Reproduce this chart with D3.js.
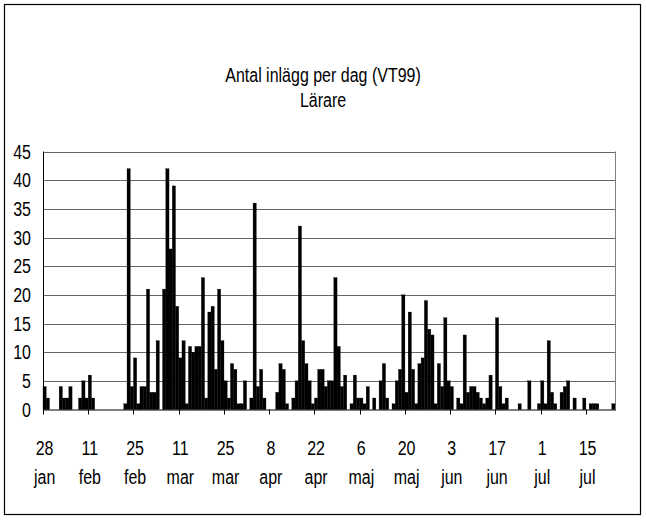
<!DOCTYPE html>
<html>
<head>
<meta charset="utf-8">
<script src="https://cdn.jsdelivr.net/npm/d3@7"></script>
<style>
  body { margin: 0; background: #fff; }
  text { font-family: "Liberation Sans", Arial, sans-serif; fill: #000; }
</style>
</head>
<body>
<div id="chart"></div>
<script>
var width = 646, height = 520;

// Antal inlägg per dag, från 28 jan 1999 och framåt (en siffra per dag)
var postsPerDay = [
  4, 2, 0, 0, 0, 4, 2, 2, 4, 0, 0, 2, 5, 2, 6, 2, 0, 0, 0, 0,
  0, 0, 0, 0, 0, 1, 42, 4, 9, 1, 4, 4, 21, 3, 3, 12, 0, 21, 42, 28,
  39, 18, 9, 12, 1, 11, 10, 11, 11, 23, 2, 17, 18, 7, 21, 12, 5, 2, 8, 7,
  1, 1, 5, 0, 2, 36, 4, 7, 2, 0, 0, 0, 3, 8, 7, 1, 0, 2, 5, 32,
  12, 8, 5, 1, 2, 7, 7, 4, 5, 5, 23, 11, 4, 6, 0, 1, 6, 2, 2, 1,
  4, 0, 2, 0, 5, 8, 2, 0, 1, 5, 7, 20, 3, 17, 7, 1, 8, 9, 19, 14,
  13, 1, 8, 4, 16, 5, 4, 0, 2, 1, 13, 3, 4, 4, 3, 2, 1, 2, 6, 0,
  16, 4, 1, 2, 0, 0, 0, 1, 0, 0, 5, 0, 0, 1, 5, 1, 12, 3, 1, 0,
  3, 4, 5, 0, 2, 0, 0, 2, 0, 1, 1, 1, 0, 0, 0, 0, 1
];
var tickDays = ["28", "11", "25", "11", "25", "8", "22", "6", "20", "3", "17", "1", "15"];
var tickMonths = ["jan", "feb", "feb", "mar", "mar", "apr", "apr", "maj", "maj", "jun", "jun", "jul", "jul"];
var yTicks = [0, 5, 10, 15, 20, 25, 30, 35, 40, 45];
var titleLines = ["Antal inlägg per dag (VT99)", "Lärare"];
var labelStep = 14;

var plot = {left: 43, right: 615, top: 151.5, bottom: 409.5};
var fontSize = 19.5, narrow = 0.82;

var svg = d3.select("#chart").append("svg").attr("width", width).attr("height", height);

// smal text (som Arial Narrow) genom att trycka ihop Liberation Sans
function narrowText(parent, x, y, str, anchor) {
  parent.append("g").attr("transform", "translate(" + x + "," + y + ") scale(" + narrow + ",1)")
    .append("text")
    .attr("text-anchor", anchor || "middle")
    .attr("font-size", fontSize)
    .text(str);
}

// ram runt hela diagrammet
svg.append("rect")
  .attr("x", 4.5).attr("y", 4.5).attr("width", 636).attr("height", 510)
  .attr("fill", "#fff").attr("stroke", "#000").attr("stroke-width", 1.2);

titleLines.forEach(function(t, i) {
  narrowText(svg, 323, 82 + i * 25, t, "middle");
});

var x = d3.scaleBand().domain(d3.range(postsPerDay.length)).range([plot.left, plot.right]).padding(0);
var y = d3.scaleLinear().domain([0, 45]).range([plot.bottom, plot.top]);

// stödlinjer
svg.selectAll("line.grid").data(yTicks.slice(1)).enter().append("line")
  .attr("x1", plot.left).attr("x2", plot.right)
  .attr("y1", function(d) { return Math.round(y(d)) + 0.5; })
  .attr("y2", function(d) { return Math.round(y(d)) + 0.5; })
  .attr("stroke", "#666").attr("stroke-width", 1);

svg.append("line")
  .attr("x1", plot.right + 0.5).attr("x2", plot.right + 0.5)
  .attr("y1", plot.top).attr("y2", plot.bottom)
  .attr("stroke", "#808080");

// staplar
svg.selectAll("rect.bar").data(postsPerDay).enter().append("rect")
  .attr("class", "bar")
  .attr("x", function(d, i) { return x(i); })
  .attr("width", x.bandwidth())
  .attr("y", function(d) { return y(d); })
  .attr("height", function(d) { return y(0) - y(d); })
  .attr("fill", "#000")
  .attr("stroke", "#000").attr("stroke-width", 0.3);

// y-axel
svg.append("line")
  .attr("x1", plot.left + 0.5).attr("x2", plot.left + 0.5)
  .attr("y1", plot.top).attr("y2", plot.bottom + 1)
  .attr("stroke", "#000");
yTicks.forEach(function(v) {
  narrowText(svg, plot.left - 12, y(v) + 7, String(v), "end");
});

// x-axel med streck var 14:e dag
var tickIdx = d3.range(0, postsPerDay.length + 1, labelStep);
svg.selectAll("line.xtick").data(tickIdx).enter().append("line")
  .attr("x1", function(d) { return Math.round(plot.left + d * x.step()) + 0.5; })
  .attr("x2", function(d) { return Math.round(plot.left + d * x.step()) + 0.5; })
  .attr("y1", plot.bottom).attr("y2", plot.bottom + 5)
  .attr("stroke", "#000");
svg.append("line")
  .attr("x1", plot.left).attr("x2", plot.right + 1)
  .attr("y1", plot.bottom + 0.5).attr("y2", plot.bottom + 0.5)
  .attr("stroke", "#000");

tickDays.forEach(function(d, i) {
  var cx = x(i * labelStep) + x.bandwidth() / 2;
  narrowText(svg, cx, 455, d, "middle");
  narrowText(svg, cx, 484, tickMonths[i], "middle");
});
</script>
</body>
</html>
